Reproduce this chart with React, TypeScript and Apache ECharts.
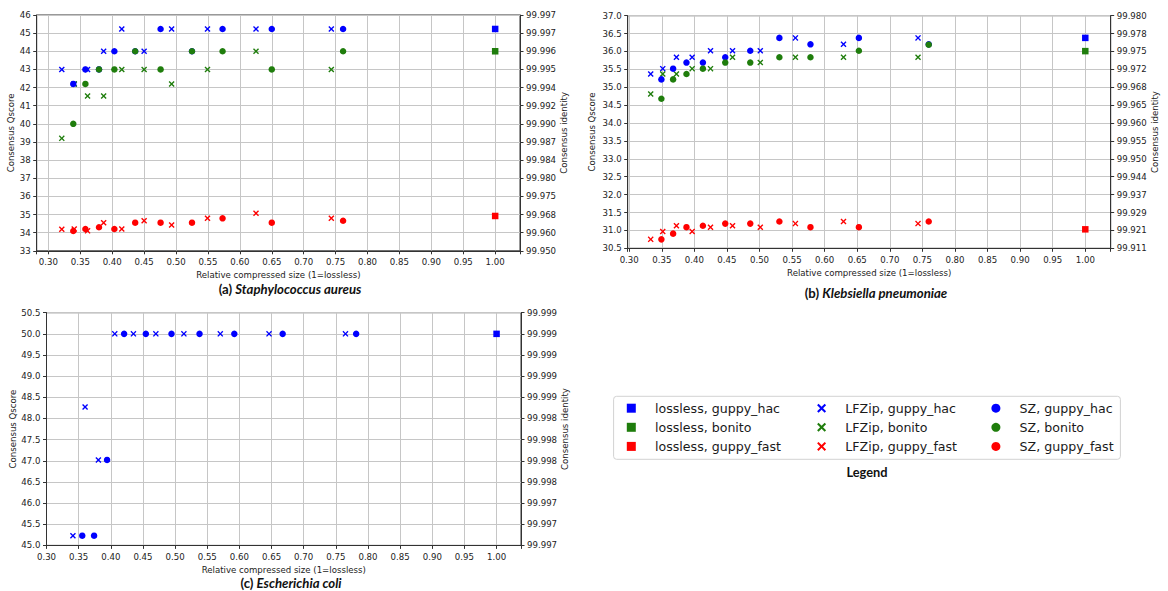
import React, { useEffect, useRef } from 'react';
import * as echarts from 'echarts';

// ---------- colours ----------
const BLUE = '#0000ff';
const GREEN = '#1f7d0c';
const RED = '#ff0000';

// ---------- tick settings ----------
const xTickStep = 0.05;
const xTitle = 'Relative compressed size (1=lossless)';
const yLeftTitle = 'Consensus Qscore';
const yRightTitle = 'Consensus identity';

// ---------- panel (a) Staphylococcus aureus ----------
const aLfzipX = [0.321, 0.3405, 0.3614, 0.3866, 0.415, 0.45, 0.4931, 0.5493, 0.6253, 0.7433];
const aLfzipHac = [43, 42.2, 43, 44, 45.23, 44, 45.23, 45.23, 45.23, 45.23];
const aLfzipBonito = [39.2, 42.2, 41.53, 41.53, 43, 43, 42.2, 43, 44, 43];
const aLfzipFast = [34.19, 34.2, 34.1, 34.55, 34.2, 34.66, 34.42, 34.79, 35.07, 34.79];
const aSzX = [0.339, 0.358, 0.3793, 0.4034, 0.436, 0.4758, 0.525, 0.5729, 0.65, 0.7617];
const aSzHac = [42.2, 43, 43, 44, 44, 45.23, 44, 45.23, 45.23, 45.23];
const aSzBonito = [40, 42.2, 43, 43, 44, 43, 44, 44, 43, 44];
const aSzFast = [34.09, 34.2, 34.3, 34.2, 34.55, 34.55, 34.55, 34.79, 34.55, 34.66];
const aLosslessX = [1.0];
const aLosslessHac = [45.23];
const aLosslessBonito = [44];
const aLosslessFast = [34.92];

// ---------- panel (b) Klebsiella pneumoniae ----------
const bLfzipX = [0.333, 0.3515, 0.3725, 0.3966, 0.4248, 0.4586, 0.5012, 0.5551, 0.6289, 0.7433];
const bLfzipHac = [35.37, 35.52, 35.84, 35.84, 36.02, 36.02, 36.02, 36.38, 36.2, 36.38];
const bLfzipBonito = [34.81, 35.37, 35.37, 35.52, 35.52, 35.84, 35.69, 35.84, 35.84, 35.84];
const bLfzipFast = [30.75, 30.97, 31.13, 30.97, 31.09, 31.13, 31.09, 31.19, 31.25, 31.19];
const bSzX = [0.3494, 0.3674, 0.3879, 0.4131, 0.4474, 0.4858, 0.5305, 0.5782, 0.6525, 0.7597];
const bSzHac = [35.22, 35.52, 35.69, 35.69, 35.84, 36.02, 36.38, 36.2, 36.38, 36.2];
const bSzBonito = [34.68, 35.22, 35.37, 35.52, 35.69, 35.69, 35.84, 35.84, 36.02, 36.19];
const bSzFast = [30.75, 30.91, 31.09, 31.13, 31.19, 31.19, 31.25, 31.09, 31.09, 31.25];
const bLosslessX = [1.0];
const bLosslessHac = [36.38];
const bLosslessBonito = [36.01];
const bLosslessFast = [31.03];

// ---------- panel (c) Escherichia coli ----------
const cLfzipX = [0.3411, 0.36, 0.3807, 0.4062, 0.4352, 0.4701, 0.5137, 0.5703, 0.6461, 0.765];
const cLfzipHac = [45.23, 48.27, 47.02, 50, 50, 50, 50, 50, 50, 50];
const cSzX = [0.3556, 0.374, 0.3942, 0.4207, 0.4545, 0.4944, 0.538, 0.5921, 0.6673, 0.7816];
const cSzHac = [45.23, 45.23, 47.02, 50, 50, 50, 50, 50, 50, 50];
const cLosslessX = [1.0];
const cLosslessHac = [50];

// ---------- axis ranges ----------
const xRanges = [
  [0.2817, 1.0389],
  [0.2977, 1.039],
  [0.3, 1.038],
];
const yRanges = [
  [33, 46, 1, 0],
  [30.5, 37, 0.5, 1],
  [45, 50.5, 0.5, 1],
];

const captions = [
  { tag: '(a) ', species: 'Staphylococcus aureus' },
  { tag: '(b) ', species: 'Klebsiella pneumoniae' },
  { tag: '(c) ', species: 'Escherichia coli' },
];

const legendCols = [
  ['lossless, guppy_hac', 'lossless, bonito', 'lossless, guppy_fast'],
  ['LFZip, guppy_hac', 'LFZip, bonito', 'LFZip, guppy_fast'],
  ['SZ, guppy_hac', 'SZ, bonito', 'SZ, guppy_fast'],
];

const SQUARE = 'path://M0,0L10,0L10,10L0,10Z';
const XMARK =
  'path://M0,1.6L1.6,0L5,3.4L8.4,0L10,1.6L6.6,5L10,8.4L8.4,10L5,6.6L1.6,10L0,8.4L3.4,5Z';

const FONT = 'DejaVu Sans';
const AX = '#333333';
const TXT = '#222222';

function pairs(xs: number[], ys: number[]) {
  return xs.map((x, i) => [x, ys[i]]);
}

function identity(q: number) {
  return (100 - 100 * Math.pow(10, -q / 10)).toFixed(3);
}

export default function App() {
  const ref = useRef<HTMLDivElement>(null);

  useEffect(() => {
    document.body.style.margin = '0';
    const chart = echarts.init(ref.current!, undefined, { renderer: 'svg' });

    const grids = [
      { left: 36.7, top: 15, width: 483.3, height: 235.8 },
      { left: 627.7, top: 15.7, width: 483, height: 232.6 },
      { left: 46.5, top: 312.7, width: 474.5, height: 232.7 },
    ].map((g) => ({
      ...g,
      show: true,
      borderColor: AX,
      borderWidth: 1,
      backgroundColor: 'transparent',
      containLabel: false,
    }));

    const leftNameGap = [20, 31, 28];
    const rightNameGap = [39, 38, 38];

    const xAxis = xRanges.map((r, i) => ({
      type: 'value',
      gridIndex: i,
      min: r[0],
      max: r[1],
      splitNumber: Math.round((r[1] - r[0]) / xTickStep),
      name: xTitle,
      nameLocation: 'middle',
      nameGap: 20,
      nameTextStyle: { fontSize: 8.6, color: TXT, fontFamily: FONT },
      axisLine: { show: true, onZero: false, lineStyle: { color: AX, width: 1 } },
      axisTick: { show: true, inside: false, length: 3.5, lineStyle: { color: AX } },
      axisLabel: {
        interval: 0,
        margin: 7,
        fontSize: 8.6,
        color: TXT,
        fontFamily: FONT,
        formatter: (v: number) => {
          const k = Math.round(v / xTickStep);
          return Math.abs(v - k * xTickStep) < 1e-6 ? v.toFixed(2) : '';
        },
      },
      splitLine: { show: true, lineStyle: { color: '#c6c6c6', width: 1 } },
    }));

    const yAxis: any[] = [];
    yRanges.forEach((r, i) => {
      const common = {
        type: 'value',
        gridIndex: i,
        min: r[0],
        max: r[1],
        interval: r[2],
        nameLocation: 'middle',
        nameRotate: 90,
        nameTextStyle: { fontSize: 8.6, color: TXT, fontFamily: FONT },
        axisLine: { show: true, onZero: false, lineStyle: { color: AX, width: 1 } },
        axisTick: { show: true, inside: false, length: 3.5, lineStyle: { color: AX } },
      };
      yAxis.push({
        ...common,
        position: 'left',
        name: yLeftTitle,
        nameGap: leftNameGap[i],
        axisLabel: {
          margin: 6,
          fontSize: 8.6,
          color: TXT,
          fontFamily: FONT,
          formatter: (v: number) => v.toFixed(r[3]),
        },
        splitLine: { show: true, lineStyle: { color: '#c6c6c6', width: 1 } },
      });
      yAxis.push({
        ...common,
        position: 'right',
        name: yRightTitle,
        nameGap: rightNameGap[i],
        axisLabel: {
          margin: 6,
          fontSize: 8.6,
          color: TXT,
          fontFamily: FONT,
          formatter: (v: number) => identity(v),
        },
        splitLine: { show: false },
      });
    });

    const series: any[] = [];
    const add = (name: string, symbol: string, size: number, color: string, g: number, data: number[][]) => {
      series.push({
        type: 'scatter',
        name,
        xAxisIndex: g,
        yAxisIndex: g * 2,
        symbol,
        symbolSize: size,
        itemStyle: { color, opacity: 1 },
        emphasis: { disabled: true },
        data,
      });
    };

    // panel (a)
    add('lossless, guppy_hac', SQUARE, 6.5, BLUE, 0, pairs(aLosslessX, aLosslessHac));
    add('lossless, bonito', SQUARE, 6.5, GREEN, 0, pairs(aLosslessX, aLosslessBonito));
    add('lossless, guppy_fast', SQUARE, 6.5, RED, 0, pairs(aLosslessX, aLosslessFast));
    add('LFZip, guppy_hac', XMARK, 6, BLUE, 0, pairs(aLfzipX, aLfzipHac));
    add('LFZip, bonito', XMARK, 6, GREEN, 0, pairs(aLfzipX, aLfzipBonito));
    add('LFZip, guppy_fast', XMARK, 6, RED, 0, pairs(aLfzipX, aLfzipFast));
    add('SZ, guppy_hac', 'circle', 6.5, BLUE, 0, pairs(aSzX, aSzHac));
    add('SZ, bonito', 'circle', 6.5, GREEN, 0, pairs(aSzX, aSzBonito));
    add('SZ, guppy_fast', 'circle', 6.5, RED, 0, pairs(aSzX, aSzFast));
    // panel (b)
    add('lossless, guppy_hac', SQUARE, 6.5, BLUE, 1, pairs(bLosslessX, bLosslessHac));
    add('lossless, bonito', SQUARE, 6.5, GREEN, 1, pairs(bLosslessX, bLosslessBonito));
    add('lossless, guppy_fast', SQUARE, 6.5, RED, 1, pairs(bLosslessX, bLosslessFast));
    add('LFZip, guppy_hac', XMARK, 6, BLUE, 1, pairs(bLfzipX, bLfzipHac));
    add('LFZip, bonito', XMARK, 6, GREEN, 1, pairs(bLfzipX, bLfzipBonito));
    add('LFZip, guppy_fast', XMARK, 6, RED, 1, pairs(bLfzipX, bLfzipFast));
    add('SZ, guppy_hac', 'circle', 6.5, BLUE, 1, pairs(bSzX, bSzHac));
    add('SZ, bonito', 'circle', 6.5, GREEN, 1, pairs(bSzX, bSzBonito));
    add('SZ, guppy_fast', 'circle', 6.5, RED, 1, pairs(bSzX, bSzFast));
    // panel (c)
    add('lossless, guppy_hac', SQUARE, 6.5, BLUE, 2, pairs(cLosslessX, cLosslessHac));
    add('LFZip, guppy_hac', XMARK, 6, BLUE, 2, pairs(cLfzipX, cLfzipHac));
    add('SZ, guppy_hac', 'circle', 6.5, BLUE, 2, pairs(cSzX, cSzHac));

    const iconFor = (n: string) =>
      n.startsWith('lossless') ? SQUARE : n.startsWith('LFZip') ? XMARK : 'circle';
    const legendLeft = [626.8, 817.1, 991.4];
    const legend = legendCols.map((col, i) => ({
      orient: 'vertical',
      left: legendLeft[i],
      top: 401.2,
      padding: 0,
      itemWidth: 37.4,
      itemHeight: 9,
      itemGap: 5.1,
      selectedMode: false,
      symbolKeepAspect: true,
      z: 10,
      textStyle: { fontSize: 12.6, fontFamily: FONT, color: '#1a1a1a', lineHeight: 14 },
      data: col.map((n) => ({ name: n, icon: iconFor(n) })),
    }));

    const captionPos = [
      [290, 289],
      [876, 293],
      [291, 583],
    ];
    const captionEls = captions.map((c, i) => ({
      type: 'text',
      x: captionPos[i][0],
      y: captionPos[i][1],
      style: {
        text: `{n|${c.tag}}{s|${c.species}}`,
        align: 'center',
        verticalAlign: 'middle',
        fill: '#111',
        rich: {
          n: { fontFamily: 'Lato', fontWeight: 'bold', fontSize: 13.2, fill: '#111' },
          s: { fontFamily: 'Lato', fontWeight: 'bold', fontStyle: 'italic', fontSize: 13.2, fill: '#111' },
        },
      },
    }));

    chart.setOption({
      animation: false,
      textStyle: { fontFamily: FONT },
      grid: grids,
      xAxis,
      yAxis,
      series,
      legend,
      graphic: [
        {
          type: 'rect',
          z: 1,
          shape: { x: 613.6, y: 396.3, width: 506.8, height: 63, r: 3 },
          style: { fill: '#ffffff', stroke: '#d2d2d2', lineWidth: 1 },
        },
        {
          type: 'text',
          x: 867,
          y: 472,
          style: {
            text: 'Legend',
            align: 'center',
            verticalAlign: 'middle',
            fontFamily: 'Lato',
            fontWeight: 'bold',
            fontSize: 12.8,
            fill: '#111',
          },
        },
        ...captionEls,
      ],
    });

    return () => chart.dispose();
  }, []);

  return (
    <div
      ref={ref}
      style={{ position: 'absolute', left: 0, top: 0, width: 1168, height: 591, background: '#fff' }}
    />
  );
}
